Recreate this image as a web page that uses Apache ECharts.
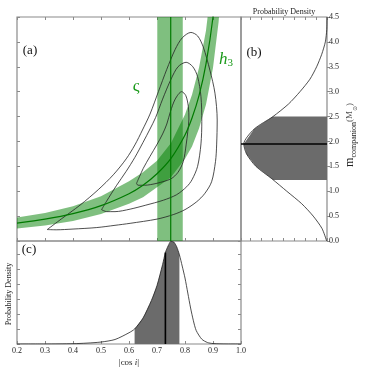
<!DOCTYPE html>
<html>
<head>
<meta charset="utf-8">
<script src="https://cdn.jsdelivr.net/npm/echarts@6/dist/echarts.min.js"></script>
<style>
html, body { margin: 0; padding: 0; background: #fff; }
#chart { width: 366px; height: 371px; }
</style>
</head>
<body>
<div id="chart"></div>
<script>
// (a) h3 band, read at these |cos i| values
let h3Cos  = [0.2, 0.3, 0.4, 0.5, 0.6, 0.65, 0.7, 0.75, 0.8, 0.825, 0.85, 0.875, 0.9, 0.92, 0.94];
let h3Mid  = [0.36, 0.44, 0.55, 0.71, 0.95, 1.12, 1.35, 1.66, 2.13, 2.47, 2.92, 3.56, 4.5, 5.7, 7.7];
let h3Low  = [0.25, 0.31, 0.40, 0.54, 0.75, 0.88, 1.08, 1.28, 1.65, 1.90, 2.26, 2.74, 3.48, 4.4, 5.9];
let h3High = [0.47, 0.56, 0.70, 0.90, 1.20, 1.38, 1.61, 1.97, 2.54, 2.94, 3.48, 4.23, 5.4, 6.8, 9.0];

// (a) vertical varsigma band
let sigmaCos = [0.701, 0.749, 0.792];

// (a) contours [|cos i|, m]
let contourOuter = [[0.308,0.23],[0.36,0.45],[0.425,0.72],[0.49,1.03],[0.544,1.33],[0.59,1.65],[0.621,1.93],[0.648,2.23],[0.675,2.55],[0.705,3.0],[0.735,3.45],[0.765,3.85],[0.79,4.08],[0.821,4.19],[0.845,4.12],[0.865,3.9],[0.889,3.43],[0.907,2.97],[0.915,2.43],[0.913,1.93],[0.909,1.6],[0.895,1.19],[0.87,0.95],[0.842,0.79],[0.8,0.63],[0.758,0.53],[0.7,0.44],[0.604,0.355],[0.55,0.315],[0.485,0.27],[0.4,0.24],[0.34,0.225],[0.308,0.23]];
let contourMiddle = [[0.502,0.63],[0.52,0.8],[0.556,1.12],[0.59,1.4],[0.621,1.68],[0.65,1.98],[0.675,2.25],[0.695,2.48],[0.72,2.85],[0.75,3.25],[0.775,3.5],[0.804,3.59],[0.828,3.5],[0.845,3.3],[0.857,2.9],[0.86,2.4],[0.857,1.95],[0.845,1.5],[0.825,1.23],[0.806,1.09],[0.77,0.93],[0.723,0.82],[0.66,0.72],[0.604,0.64],[0.55,0.59],[0.52,0.59],[0.502,0.63]];
let contourInner = [[0.627,1.16],[0.638,1.3],[0.651,1.46],[0.675,1.7],[0.699,1.93],[0.72,2.15],[0.735,2.35],[0.748,2.6],[0.765,2.85],[0.788,3.0],[0.803,2.92],[0.812,2.7],[0.814,2.45],[0.81,2.2],[0.804,1.93],[0.794,1.6],[0.775,1.38],[0.75,1.25],[0.7,1.16],[0.655,1.12],[0.632,1.12],[0.627,1.16]];

// (b) m_companion density
let bM    = [0, 0.25, 0.5, 0.75, 1.0, 1.25, 1.5, 1.75, 1.95, 2.25, 2.5, 2.75, 3.0, 3.25, 3.5, 3.75, 4.0, 4.25, 4.5];
let bDens = [0.03, 0.45, 1.25, 2.3, 3.65, 5.0, 6.45, 7.3, 7.55, 6.6, 4.9, 3.5, 2.45, 1.55, 0.94, 0.48, 0.15, 0.02, 0.0];
let bShade = [1.225, 2.5];
let bBest = 1.95;

// (c) |cos i| density
let cCos  = [0.2, 0.3, 0.4, 0.45, 0.5, 0.55, 0.6, 0.62, 0.65, 0.68, 0.7, 0.72, 0.73, 0.74, 0.75, 0.76, 0.77, 0.78, 0.79, 0.8, 0.81, 0.82, 0.83, 0.84, 0.86, 0.88, 0.9, 0.95, 1.0];
let cDens = [0, 0, 0.02, 0.06, 0.13, 0.3, 0.75, 1.0, 1.73, 2.9, 3.9, 5.3, 6.1, 6.55, 6.85, 6.8, 6.5, 5.95, 5.2, 4.4, 3.4, 2.4, 1.55, 0.9, 0.32, 0.1, 0.03, 0, 0];
let cShade = [0.62, 0.78];
let cBest = 0.73;

// tick labels
let cosTicks = [0.2, 0.3, 0.4, 0.5, 0.6, 0.7, 0.8, 0.9, 1.0];
let mTicks = [0, 0.5, 1, 1.5, 2, 2.5, 3, 3.5, 4, 4.5];

let serif = "'Liberation Serif', 'DejaVu Serif', serif";
let frame = '#8a8a8a';
let green = '#007a00';
let bandFill = 'rgba(0,128,0,0.5)';
let gray = '#6b6b6b';

let interp = function (xs, ys, x) {
    for (let i = 1; i < xs.length; i++) {
        if (x <= xs[i]) {
            let t = (x - xs[i - 1]) / (xs[i] - xs[i - 1]);
            return ys[i - 1] + t * (ys[i] - ys[i - 1]);
        }
    }
    return ys[ys.length - 1];
};

let zip = function (xs, ys) {
    return xs.map(function (x, i) { return [x, ys[i]]; });
};

// custom series drawing one filled polygon
let polygonSeries = function (pts, fill, xi, yi, z) {
    return {
        type: 'custom',
        xAxisIndex: xi,
        yAxisIndex: yi,
        clip: true,
        z: z,
        silent: true,
        data: [pts[0]],
        renderItem: function (params, api) {
            return {
                type: 'polygon',
                shape: { points: pts.map(function (p) { return api.coord(p); }) },
                style: { fill: fill }
            };
        }
    };
};

let lineSeries = function (data, color, width, xi, yi, z, smooth) {
    return {
        type: 'line',
        xAxisIndex: xi,
        yAxisIndex: yi,
        data: data,
        symbol: 'none',
        smooth: smooth || false,
        z: z,
        silent: true,
        lineStyle: { color: color, width: width }
    };
};

// h3 band polygon: lower edge then upper edge back
let h3Band = zip(h3Cos, h3Low).concat(zip(h3Cos, h3High).reverse());
let sigmaBand = [[sigmaCos[0], -1], [sigmaCos[2], -1], [sigmaCos[2], 6], [sigmaCos[0], 6]];

// shaded part of (b)
let bShadePts = [[0, bShade[0]], [interp(bM, bDens, bShade[0]), bShade[0]]];
bM.forEach(function (m, i) { if (m > bShade[0] && m < bShade[1]) bShadePts.push([bDens[i], m]); });
bShadePts.push([interp(bM, bDens, bShade[1]), bShade[1]], [0, bShade[1]]);

// shaded part of (c)
let cShadePts = [[cShade[0], 0], [cShade[0], interp(cCos, cDens, cShade[0])]];
cCos.forEach(function (c, i) { if (c > cShade[0] && c < cShade[1]) cShadePts.push([c, cDens[i]]); });
cShadePts.push([cShade[1], interp(cCos, cDens, cShade[1])], [cShade[1], 0]);

let gridBase = { show: true, borderColor: frame, borderWidth: 1.2, backgroundColor: 'transparent', containLabel: false, outerBoundsMode: 'none' };
let tick = function (inside) {
    return { show: true, inside: inside, length: 3, lineStyle: { color: frame, width: 1 } };
};
let plainAxis = function (extra) {
    return Object.assign({
        type: 'value',
        axisLine: { show: false },
        axisTick: tick(true),
        axisLabel: { show: false },
        splitLine: { show: false }
    }, extra);
};

let option = {
    animation: false,
    backgroundColor: '#fff',
    grid: [
        Object.assign({ left: 17, top: 17, width: 224, height: 224 }, gridBase),
        Object.assign({ left: 241, top: 17, width: 86, height: 224 }, gridBase),
        Object.assign({ left: 17, top: 241, width: 224, height: 103 }, gridBase)
    ],
    xAxis: [
        plainAxis({ gridIndex: 0, min: cosTicks[0], max: cosTicks[cosTicks.length - 1], interval: 0.1, position: 'bottom' }),
        plainAxis({ gridIndex: 0, min: cosTicks[0], max: cosTicks[cosTicks.length - 1], interval: 0.1, position: 'top' }),
        plainAxis({ gridIndex: 1, min: 0, max: 7.8, interval: 1, inverse: true, position: 'bottom' }),
        plainAxis({ gridIndex: 1, min: 0, max: 7.8, interval: 1, inverse: true, position: 'top' }),
        plainAxis({
            gridIndex: 2, min: cosTicks[0], max: cosTicks[cosTicks.length - 1], interval: 0.1, position: 'bottom',
            axisLabel: {
                show: true, margin: 3, color: '#222', fontSize: 8, fontFamily: serif,
                formatter: function (v) { return cosTicks.indexOf(Math.round(v * 10) / 10) >= 0 ? v.toFixed(1) : ''; }
            }
        })
    ],
    yAxis: [
        plainAxis({ gridIndex: 0, min: mTicks[0], max: mTicks[mTicks.length - 1], interval: 0.5, position: 'left' }),
        plainAxis({
            gridIndex: 1, min: mTicks[0], max: mTicks[mTicks.length - 1], interval: 0.5, position: 'right',
            axisTick: tick(false),
            axisLabel: {
                show: true, margin: 2, color: '#222', fontSize: 8, fontFamily: serif,
                formatter: function (v) { return v.toFixed(1); }
            }
        }),
        plainAxis({ gridIndex: 2, min: 0, max: 6.87, interval: 1, position: 'left' }),
        plainAxis({ gridIndex: 2, min: 0, max: 6.87, interval: 1, position: 'right' })
    ],
    series: [
        // (a)
        polygonSeries(h3Band, bandFill, 0, 0, 1),
        polygonSeries(sigmaBand, bandFill, 0, 0, 1),
        lineSeries(contourOuter, '#222', 0.8, 0, 0, 3, 0.3),
        lineSeries(contourMiddle, '#222', 0.8, 0, 0, 3, 0.3),
        lineSeries(contourInner, '#222', 0.8, 0, 0, 3, 0.3),
        lineSeries(zip(h3Cos, h3Mid), green, 1.2, 0, 0, 4, 0.3),
        lineSeries([[sigmaCos[1], 0], [sigmaCos[1], 4.5]], green, 1.2, 0, 0, 4),
        // (b)
        polygonSeries(bShadePts, gray, 2, 1, 1),
        lineSeries(zip(bDens, bM), '#222', 0.8, 2, 1, 3, 0.25),
        lineSeries([[0, bBest], [7.8, bBest]], '#000', 1.6, 2, 1, 4),
        // (c)
        polygonSeries(cShadePts, gray, 4, 2, 1),
        lineSeries(zip(cCos, cDens), '#222', 0.8, 4, 2, 3, 0.25),
        lineSeries([[cBest, 0], [cBest, interp(cCos, cDens, cBest)]], '#000', 1.6, 4, 2, 4)
    ],
    graphic: [
        { type: 'text', x: 30, y: 51, style: { text: '(a)', fontSize: 13, fontFamily: serif, fill: '#111', textAlign: 'center', textVerticalAlign: 'middle', align: 'center', verticalAlign: 'middle' } },
        { type: 'text', x: 254, y: 53, style: { text: '(b)', fontSize: 13, fontFamily: serif, fill: '#111', textAlign: 'center', textVerticalAlign: 'middle', align: 'center', verticalAlign: 'middle' } },
        { type: 'text', x: 29, y: 250, style: { text: '(c)', fontSize: 13, fontFamily: serif, fill: '#111', textAlign: 'center', textVerticalAlign: 'middle', align: 'center', verticalAlign: 'middle' } },
        { type: 'text', x: 136, y: 87, style: { text: 'ς', fontSize: 17, fontFamily: serif, fill: '#1a9a1a', textAlign: 'center', textVerticalAlign: 'middle', align: 'center', verticalAlign: 'middle' } },
        { type: 'text', x: 226, y: 60, style: {
            text: '{h|h}{s|3}', fill: '#1a9a1a', textAlign: 'center', textVerticalAlign: 'middle', align: 'center', verticalAlign: 'middle',
            rich: {
                h: { fontSize: 17, fontStyle: 'italic', fontFamily: serif, fill: '#1a9a1a', lineHeight: 18 },
                s: { fontSize: 11, fontFamily: serif, fill: '#1a9a1a', verticalAlign: 'bottom' }
            }
        } },
        { type: 'text', x: 284, y: 12, style: { text: 'Probability Density', fontSize: 8, fontFamily: serif, fill: '#222', textAlign: 'center', textVerticalAlign: 'middle', align: 'center', verticalAlign: 'middle' } },
        { type: 'text', x: 9, y: 294, rotation: Math.PI / 2, style: { text: 'Probability Density', fontSize: 8, fontFamily: serif, fill: '#222', textAlign: 'center', textVerticalAlign: 'middle', align: 'center', verticalAlign: 'middle' } },
        { type: 'text', x: 129, y: 363, style: {
            text: '{n||cos }{i|i}{n||}', textAlign: 'center', textVerticalAlign: 'middle', align: 'center', verticalAlign: 'middle',
            rich: {
                n: { fontSize: 9, fontFamily: serif, fill: '#222' },
                i: { fontSize: 9, fontStyle: 'italic', fontFamily: serif, fill: '#222' }
            }
        } },
        { type: 'text', x: 350, y: 135, rotation: Math.PI / 2, style: {
            text: '{m|m}{s|companion}{p|(M}{t|⊙}{p|)}', textAlign: 'center', textVerticalAlign: 'middle', align: 'center', verticalAlign: 'middle',
            rich: {
                m: { fontSize: 12, fontFamily: serif, fill: '#222', lineHeight: 16 },
                s: { fontSize: 8, fontFamily: serif, fill: '#222', verticalAlign: 'bottom' },
                p: { fontSize: 9, fontFamily: serif, fill: '#555', lineHeight: 16 },
                t: { fontSize: 6, fontFamily: serif, fill: '#555', verticalAlign: 'bottom' }
            }
        } }
    ]
};

let chart = echarts.init(document.getElementById('chart'), null, { renderer: 'canvas' });
chart.setOption(option);
</script>
</body>
</html>
